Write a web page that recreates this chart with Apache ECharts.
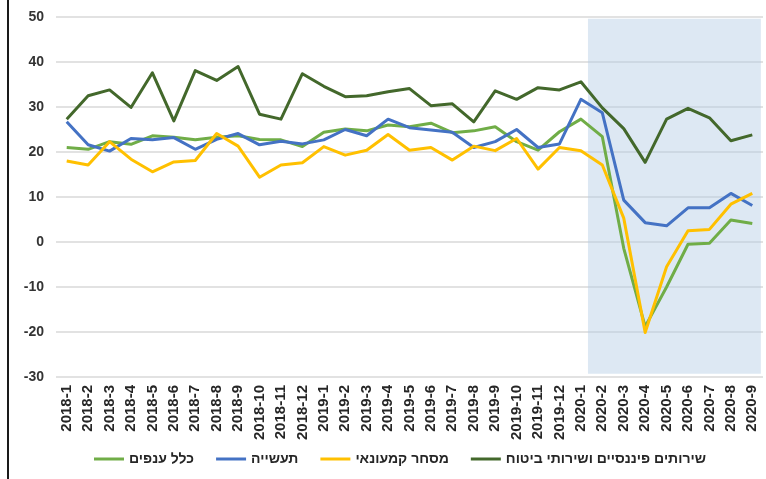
<!DOCTYPE html>
<html>
<head>
<meta charset="utf-8">
<script src="https://cdn.jsdelivr.net/npm/echarts@6/dist/echarts.min.js"></script>
<style>
  html, body { margin: 0; padding: 0; background: #fff; }
  #chart { width: 766px; height: 479px; }
</style>
</head>
<body>
<div id="chart"></div>
<script>
// months on the x axis
const months = [
  '2018-1', '2018-2', '2018-3', '2018-4', '2018-5', '2018-6', '2018-7', '2018-8', '2018-9', '2018-10', '2018-11', '2018-12',
  '2019-1', '2019-2', '2019-3', '2019-4', '2019-5', '2019-6', '2019-7', '2019-8', '2019-9', '2019-10', '2019-11', '2019-12',
  '2020-1', '2020-2', '2020-3', '2020-4', '2020-5', '2020-6', '2020-7', '2020-8', '2020-9'
];

// כלל ענפים
const allSectors = [
  21.0, 20.6, 22.3, 21.7, 23.6, 23.3, 22.7, 23.3, 23.6, 22.8, 22.7, 21.2,
  24.4, 25.1, 24.7, 26.0, 25.6, 26.4, 24.3, 24.7, 25.6, 22.3, 20.4, 24.5,
  27.3, 23.4, -1.4, -18.8, -10.0, -0.5, -0.3, 4.9, 4.1
];

// תעשייה
const industry = [
  26.7, 21.6, 20.2, 23.0, 22.7, 23.2, 20.6, 22.8, 24.1, 21.6, 22.4, 21.8,
  22.7, 25.0, 23.6, 27.3, 25.4, 24.9, 24.4, 21.0, 22.3, 25.0, 21.0, 21.8,
  31.7, 28.7, 9.3, 4.3, 3.6, 7.6, 7.6, 10.8, 8.1
];

// מסחר קמעונאי
const retail = [
  18.0, 17.1, 22.3, 18.4, 15.6, 17.8, 18.1, 24.1, 21.3, 14.4, 17.1, 17.6,
  21.2, 19.3, 20.4, 23.9, 20.4, 21.0, 18.2, 21.3, 20.3, 23.0, 16.2, 21.0,
  20.3, 17.1, 5.3, -20.1, -5.5, 2.5, 2.8, 8.4, 10.8
];

// שירותים פיננסיים ושירותי ביטוח
const finance = [
  27.3, 32.5, 33.8, 29.9, 37.6, 26.9, 38.1, 35.9, 39.0, 28.4, 27.3, 37.4,
  34.6, 32.3, 32.5, 33.4, 34.1, 30.3, 30.7, 26.7, 33.6, 31.7, 34.3, 33.8,
  35.6, 29.8, 25.2, 17.7, 27.3, 29.7, 27.6, 22.5, 23.8
];

const seriesNames = ['כלל ענפים', 'תעשייה', 'מסחר קמעונאי', 'שירותים פיננסיים ושירותי ביטוח'];
const seriesColors = ['#70AD47', '#4472C4', '#FFC000', '#43682B'];

// shaded period (covid), in band units on a hidden value axis
const shadeFrom = 24.83;
const shadeTo = 32.9;

const chart = echarts.init(document.getElementById('chart'));

const lineSeries = [allSectors, industry, retail, finance].map((data, i) => ({
  name: seriesNames[i],
  type: 'line',
  data: data,
  symbol: 'none',
  smooth: false,
  lineStyle: { width: 3, color: seriesColors[i], join: 'round' },
  itemStyle: { color: seriesColors[i] }
}));

chart.setOption({
  animation: false,
  textStyle: { fontFamily: 'Liberation Sans, Arial, sans-serif' },
  grid: { left: 56, right: 3, top: 17, bottom: 102 },
  graphic: [{
    type: 'rect',
    shape: { x: 7, y: 0, width: 2, height: 479 },
    style: { fill: '#1a1a1a' }
  }],
  legend: {
    data: seriesNames,
    bottom: 8,
    left: 89,
    icon: 'rect',
    itemWidth: 30,
    itemHeight: 3,
    itemGap: 22,
    textStyle: { fontSize: 14, fontWeight: 'bold', color: '#262626' }
  },
  xAxis: [{
    type: 'category',
    data: months,
    boundaryGap: true,
    axisLine: { show: false },
    axisTick: { show: false },
    axisLabel: {
      rotate: 90,
      interval: 0,
      margin: 8,
      fontSize: 15,
      fontWeight: 'bold',
      color: '#262626'
    }
  }, {
    type: 'value',
    min: 0,
    max: 33,
    show: false
  }],
  yAxis: {
    type: 'value',
    min: -30,
    max: 50,
    interval: 10,
    axisLine: { show: false },
    axisTick: { show: false },
    axisLabel: { fontSize: 14, fontWeight: 'bold', color: '#333', margin: 12 },
    splitLine: { lineStyle: { color: '#d9d9d9', width: 1.5 } }
  },
  series: [{
    type: 'line',
    xAxisIndex: 1,
    data: [],
    silent: true,
    markArea: {
      silent: true,
      itemStyle: { color: 'rgba(180,204,228,0.45)' },
      data: [[{ coord: [shadeFrom, 49.6] }, { coord: [shadeTo, -29.3] }]]
    }
  }].concat(lineSeries)
});
</script>
</body>
</html>
